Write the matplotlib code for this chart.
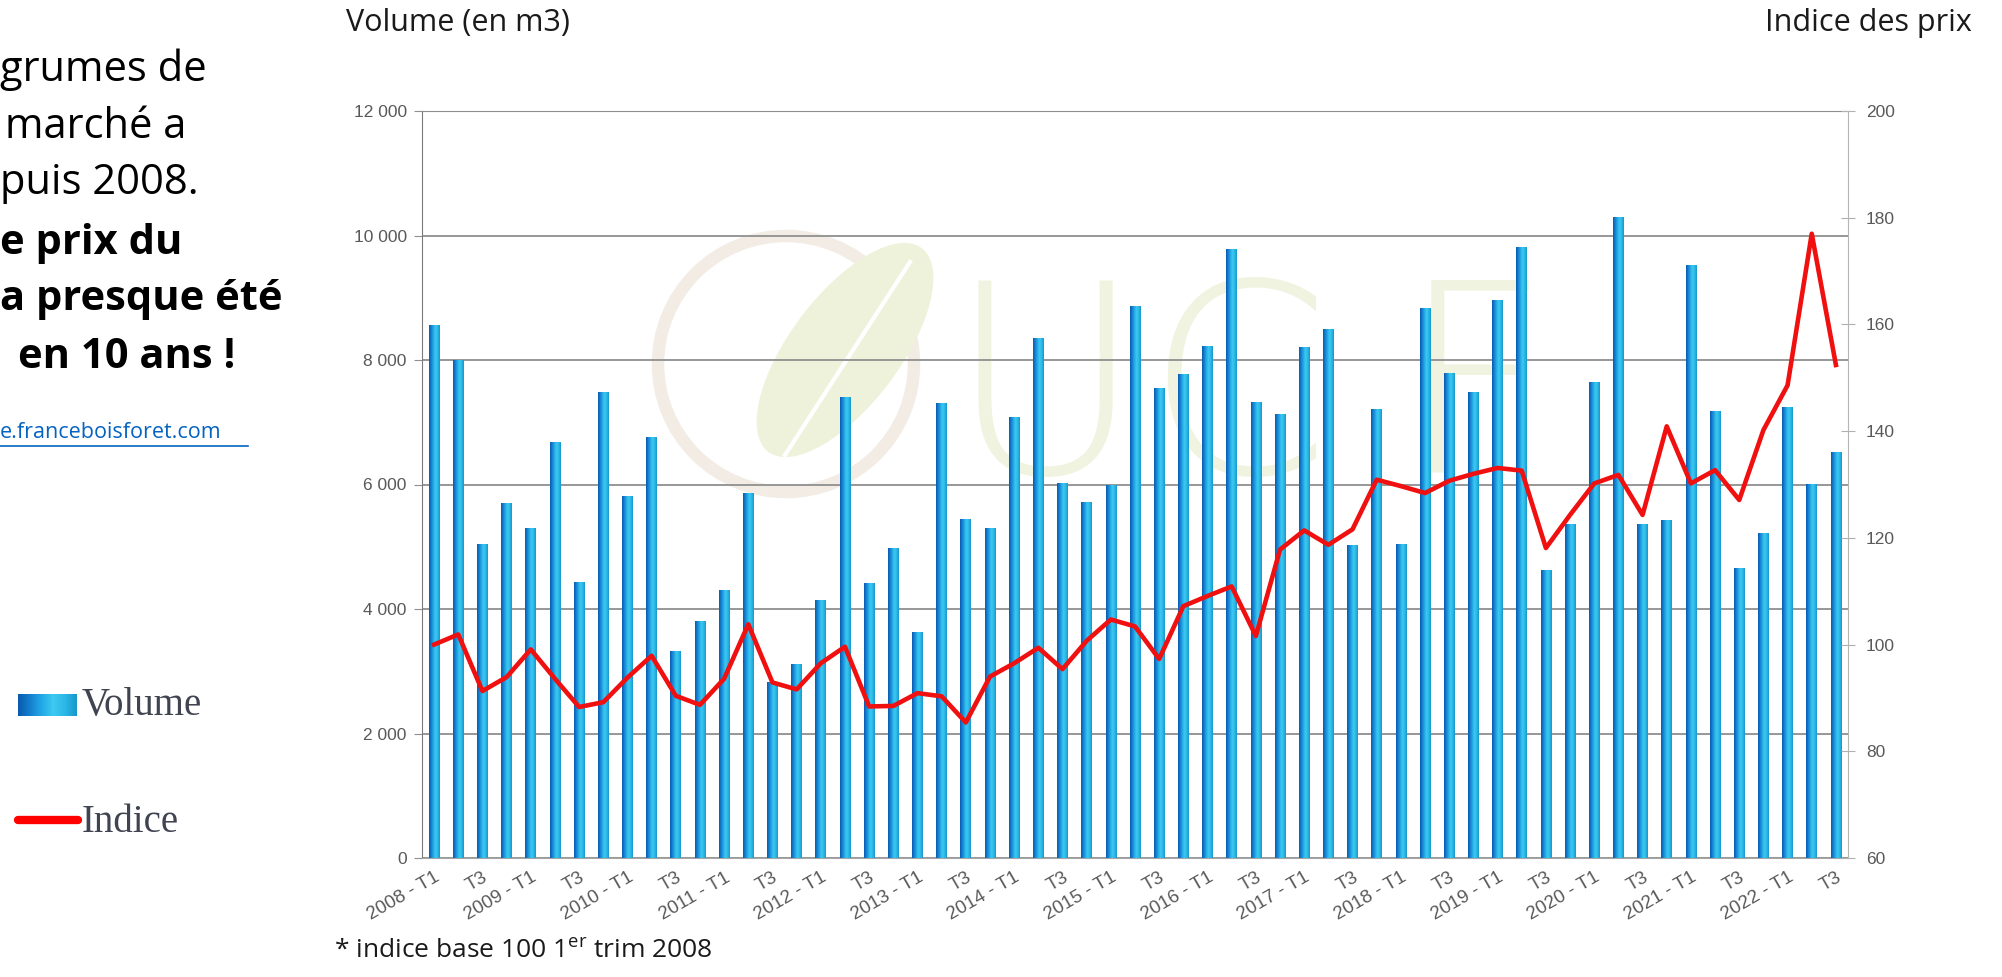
import numpy as np
import matplotlib
matplotlib.use("Agg")
import matplotlib.pyplot as plt
from matplotlib.colors import LinearSegmentedColormap
from matplotlib.patches import Circle, Ellipse

plt.rcParams['font.family'] = ['Open Sans', 'DejaVu Sans']
plt.rcParams['mathtext.fontset'] = 'custom'
plt.rcParams['mathtext.rm'] = 'Open Sans'

# quarterly data, 2008 T1 -> 2022 T3
volume = [8560, 8000, 5050, 5700, 5300, 6680, 4430, 7480, 5810, 6770,
          3330, 3810, 4300, 5870, 2820, 3110, 4150, 7400, 4420, 4980,
          3630, 7310, 5440, 5300, 7090, 8360, 6030, 5720, 5990, 8860,
          7550, 7770, 8220, 9790, 7330, 7130, 8210, 8500, 5030, 7220,
          5050, 8830, 7790, 7480, 8970, 9810, 4620, 5360, 7640, 10300,
          5360, 5430, 9530, 7180, 4660, 5220, 7240, 6010, 6530]
indice = [100.0, 101.9, 91.3, 93.9, 99.1, 93.6, 88.3, 89.2, 93.8, 97.9,
          90.4, 88.7, 93.6, 103.8, 92.9, 91.6, 96.5, 99.6, 88.4, 88.5,
          90.9, 90.3, 85.4, 94.0, 96.5, 99.4, 95.4, 100.7, 104.7, 103.4,
          97.3, 107.2, 109.1, 110.9, 101.6, 117.8, 121.4, 118.7, 121.6, 130.9,
          129.7, 128.4, 130.7, 132.0, 133.1, 132.6, 118.1, 124.3, 130.2, 131.8,
          124.3, 140.9, 130.2, 132.7, 127.1, 140.2, 148.6, 177.0, 152.4]
labels = []
for i in range(len(volume)):
    if i % 4 == 0:
        labels.append(f"{2008 + i // 4} - T1")
    elif i % 4 == 2:
        labels.append("T3")
    else:
        labels.append("")
left_ticks = [0, 2000, 4000, 6000, 8000, 10000, 12000]
right_ticks = [60, 80, 100, 120, 140, 160, 180, 200]

W, H = 2002, 977
fig = plt.figure(figsize=(W / 100, H / 100), dpi=100)

# background layer in pixel coords (texts, legend, watermark)
bg = fig.add_axes([0, 0, 1, 1], zorder=0)
bg.set_xlim(0, W)
bg.set_ylim(H, 0)
bg.axis('off')

# faint logo watermark
bg.add_patch(Circle((786, 364), 128, fill=False, ec='#f2ece5', lw=9))
bg.add_patch(Ellipse((845, 350), 255, 110, angle=-53, fc='#eef2da', ec='none'))
bg.plot([785, 910], [455, 262], color='white', lw=3)
for ch, cx in zip("UCF", [1045, 1237, 1475]):
    bg.text(cx, 400, ch, fontsize=190, color='#f0f3df', ha='center', va='center',
            family='DejaVu Sans', fontweight='light')

# slide text on the left (cut by the crop)
txt = [("grumes de", 0, 70, 'normal'), ("marché a", 5, 127, 'normal'),
       ("puis 2008.", 0, 183, 'normal'), ("e prix du", 0, 243, 'bold'),
       ("a presque été", 0, 300, 'bold'), ("en 10 ans !", 18, 358, 'bold')]
for s, tx, ty, fw in txt:
    bg.text(tx, ty, s, fontsize=30, fontweight=fw, color='black', va='center')
bg.text(0, 433, "e.franceboisforet.com", fontsize=15.5, color='#0563C1', va='center')
bg.plot([0, 248], [446, 446], color='#0563C1', lw=1.2)

cyl = LinearSegmentedColormap.from_list(
    'cyl', ['#0a5aae', '#1580d0', '#23a9e6', '#3cc9f2', '#2cb8e6', '#1897cc'])
grad = np.linspace(0, 1, 64).reshape(1, -1)

# legend
bg.imshow(grad, cmap=cyl, aspect='auto', extent=(18, 77, 716, 694), zorder=3)
bg.text(82, 705, "Volume", fontsize=28, family='Liberation Serif', color='#3f4450', va='center')
bg.plot([18, 78], [820, 820], color='#ff0000', lw=6, solid_capstyle='round')
bg.text(82, 822, "Indice", fontsize=28, family='Liberation Serif', color='#3f4450', va='center')
bg.set_xlim(0, W)
bg.set_ylim(H, 0)

bg.text(346, 23, "Volume (en m3)", fontsize=22, color='#1a1a1a', va='center')
bg.text(1972, 23, "Indice des prix", fontsize=22, color='#1a1a1a', va='center', ha='right')
bg.text(334, 951, r"* indice base 100 1$^{\rm er}$ trim 2008", fontsize=19,
        color='#1a1a1a', va='center')

# chart
ax = fig.add_axes([422 / W, 119 / H, 1426 / W, 747 / H], zorder=1)
ax.patch.set_alpha(0)
x = np.arange(len(volume))
bars = ax.bar(x, volume, width=0.44, color='#1a8fd8', zorder=2)
for b in bars:
    x0, y0, bw, bh = b.get_x(), b.get_y(), b.get_width(), b.get_height()
    im = ax.imshow(grad, cmap=cyl, aspect='auto', extent=(x0, x0 + bw, y0, y0 + bh), zorder=2.1)
    im.set_clip_path(b)
ax.set_xlim(-0.5, len(volume) - 0.5)
ax.set_ylim(0, 12000)
ax.set_yticks(left_ticks)
ax.set_yticklabels([f"{v:,}".replace(",", " ") for v in left_ticks])
ax.yaxis.grid(True, color='#8f8f8f', lw=1.3)
ax.set_axisbelow(True)
ax.set_xticks(x)
ax.set_xticklabels(labels, rotation=30, ha='right', rotation_mode='anchor',
                   family='Liberation Sans', fontsize=13.5, color='#595959')
ax.tick_params(axis='x', length=0, pad=8)
ax.tick_params(axis='y', length=6, color='#8f8f8f', labelcolor='#595959', pad=5)
for lab in ax.get_yticklabels():
    lab.set_family('Liberation Sans')
    lab.set_fontsize(12.5)
ax.spines['top'].set_color('#8f8f8f')
ax.spines['left'].set_color('#7a7a7a')
ax.spines['bottom'].set_color('#a6a6a6')
ax.spines['right'].set_visible(False)

ax2 = ax.twinx()
ax2.plot(x, indice, color='#f01010', lw=3.3, zorder=3)
ax2.set_ylim(60, 200)
ax2.set_yticks(right_ticks)
ax2.tick_params(axis='y', direction='inout', length=10, color='#b0b0b0',
                labelcolor='#595959', labelsize=12.5, pad=8)
for lab in ax2.get_yticklabels():
    lab.set_family('Liberation Sans')
for s in ['top', 'left', 'bottom']:
    ax2.spines[s].set_visible(False)
ax2.spines['right'].set_color('#b5b5b5')

fig.savefig('out.png', dpi=100)
